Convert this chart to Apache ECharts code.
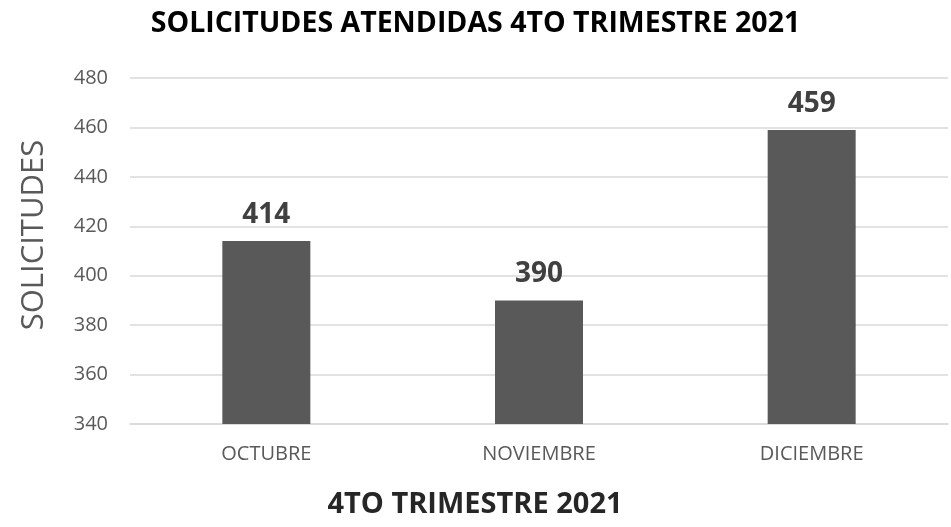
<!DOCTYPE html>
<html>
<head>
<meta charset="utf-8">
<script src="https://cdn.jsdelivr.net/npm/echarts@6/dist/echarts.min.js"></script>
<style>
  html, body { margin: 0; padding: 0; background: #fff; }
  #chart { width: 951px; height: 527px; }
</style>
</head>
<body>
<div id="chart"></div>
<script>
const months = ["OCTUBRE", "NOVIEMBRE", "DICIEMBRE"];
const solicitudes = [414, 390, 459];

const font = "'Open Sans', 'Noto Sans', sans-serif";

const chart = echarts.init(document.getElementById("chart"));

const option = {
  backgroundColor: "#ffffff",
  animation: false,
  title: {
    text: "SOLICITUDES ATENDIDAS 4TO TRIMESTRE 2021",
    left: "center",
    top: 4,
    textStyle: { fontFamily: font, fontSize: 28.5, fontWeight: "bold", color: "#000000" }
  },
  grid: { left: 130, right: 3, top: 78, bottom: 103 },
  xAxis: {
    type: "category",
    data: months,
    name: "4TO TRIMESTRE 2021",
    nameLocation: "middle",
    nameGap: 66,
    // centred on the whole chart, not on the plot area
    nameTextStyle: { fontFamily: font, fontSize: 29, fontWeight: "bold", color: "#262626", padding: [0, 128, 0, 0] },
    axisLine: { lineStyle: { color: "#d9d9d9", width: 1.5 } },
    axisTick: { show: false },
    axisLabel: { fontFamily: font, fontSize: 20, color: "#595959", margin: 20 }
  },
  yAxis: {
    type: "value",
    min: 340,
    max: 480,
    interval: 20,
    name: "SOLICITUDES",
    nameLocation: "middle",
    nameGap: 80,
    nameTextStyle: { fontFamily: font, fontSize: 31, color: "#595959", padding: [0, 0, 0, 32] },
    axisLine: { show: false },
    axisTick: { show: false },
    axisLabel: { fontFamily: font, fontSize: 20, color: "#595959", margin: 22 },
    splitLine: { lineStyle: { color: "#d9d9d9", width: 1.5 } }
  },
  series: [
    {
      type: "bar",
      data: solicitudes,
      barWidth: 88,
      itemStyle: { color: "#595959" },
      label: {
        show: true,
        position: "top",
        distance: 12,
        fontFamily: font,
        fontSize: 28,
        fontWeight: "bold",
        color: "#404040"
      }
    }
  ]
};

chart.setOption(option);
</script>
</body>
</html>
